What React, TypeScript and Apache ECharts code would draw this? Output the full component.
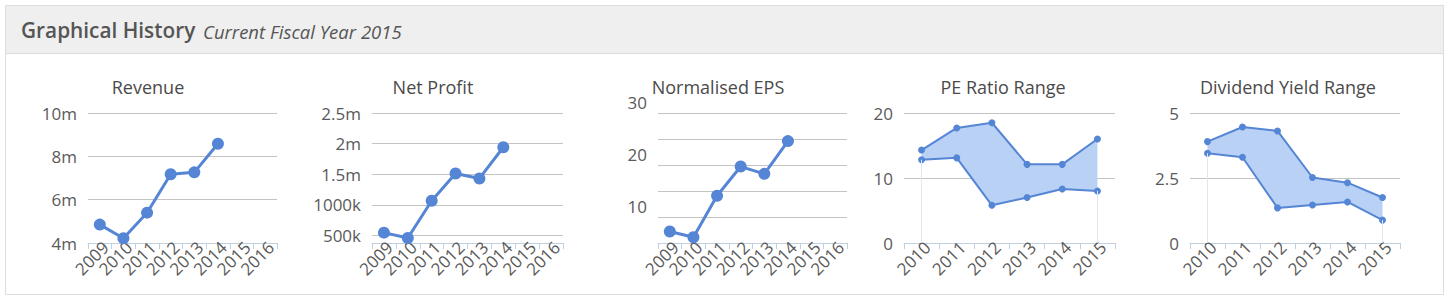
import React, { useEffect, useRef } from 'react';
import * as echarts from 'echarts';

const headerTitle = 'Graphical History';
const headerSub = 'Current Fiscal Year 2015';
const chartTitles = ['Revenue', 'Net Profit', 'Normalised EPS', 'PE Ratio Range', 'Dividend Yield Range'];

const historyYears = ['2009', '2010', '2011', '2012', '2013', '2014', '2015', '2016'];
const revenue = [4850000, 4220000, 5400000, 7170000, 7260000, 8580000, null, null];
const netProfit = [544000, 456000, 1065000, 1510000, 1430000, 1940000, null, null];
const eps = [7.2, 6.1, 14.1, 19.7, 18.3, 24.6, null, null];

const rangeYears = ['2010', '2011', '2012', '2013', '2014', '2015'];
const peHigh = [14.3, 17.7, 18.5, 12.1, 12.1, 16.0];
const peLow = [12.8, 13.1, 5.8, 7.0, 8.3, 8.0];
const dyHigh = [3.9, 4.46, 4.31, 2.52, 2.32, 1.75];
const dyLow = [3.45, 3.3, 1.35, 1.46, 1.58, 0.88];

const netProfitTicks = [500000, 1000000, 1500000, 2000000, 2500000];

const FONT = '"Open Sans", sans-serif';
const BLUE = '#5585d5';
const FILL = '#b9d1f4';
const AXIS = '#c0d0e0';
const GRIDC = '#c4c4c4';
const LABEL = '#5a5a5a';

export default function App() {
  const ref = useRef<HTMLDivElement>(null);
  useEffect(() => {
    if (!ref.current) return;
    const chart = echarts.init(ref.current, null, { renderer: 'svg' });

    const grids = [
      { left: 88, top: 113, width: 189, height: 130 },
      { left: 372, top: 113, width: 191, height: 130 },
      { left: 658, top: 113, width: 189, height: 130 },
      { left: 904, top: 113, width: 211, height: 130 },
      { left: 1190, top: 113, width: 210, height: 130 },
    ];
    const centers = [148, 433, 718, 1003, 1288];

    const xAxis = grids.map((g, i) => ({
      type: 'category',
      gridIndex: i,
      data: i < 3 ? historyYears : rangeYears,
      boundaryGap: true,
      axisLine: { lineStyle: { color: AXIS, width: 1 } },
      axisTick: { show: true, length: 6, lineStyle: { color: AXIS } },
      axisLabel: {
        rotate: 45,
        fontSize: 17,
        color: LABEL,
        margin: 7,
        interval: 0,
        fontFamily: FONT,
        padding: [0, -8, 0, 0],
      },
      splitLine: { show: false },
    }));

    const baseY = (i: number, extra: any) => ({
      type: 'value',
      gridIndex: i,
      axisLine: { show: false },
      axisTick: { show: false },
      splitLine: { show: true, lineStyle: { color: GRIDC, width: 1 } },
      ...extra,
      axisLabel: { fontSize: 17, color: LABEL, margin: 11, fontFamily: FONT, ...(extra.axisLabel || {}) },
    });

    const yAxis = [
      baseY(0, { min: 4000000, max: 10000000, interval: 2000000, axisLabel: { formatter: (v: number) => v / 1000000 + 'm' } }),
      baseY(1, {
        min: 375000,
        max: 2500000,
        axisTick: { show: false, customValues: netProfitTicks },
        axisLabel: {
          customValues: netProfitTicks,
          formatter: (v: number) => (v < 1500000 ? v / 1000 + 'k' : v / 1000000 + 'm'),
        },
      }),
      baseY(2, {
        min: 5,
        max: 30,
        interval: 5,
        axisLabel: {
          formatter: (v: number) => (v % 10 === 0 ? String(v) : ''),
          verticalAlign: 'bottom',
          lineHeight: 22,
        },
      }),
      baseY(3, { min: 0, max: 20, interval: 10 }),
      baseY(4, { min: 0, max: 5, interval: 2.5 }),
    ];

    const lineSeries = (i: number, data: any[]) => ({
      type: 'line',
      xAxisIndex: i,
      yAxisIndex: i,
      data,
      symbol: 'circle',
      symbolSize: 12,
      showSymbol: true,
      lineStyle: { color: BLUE, width: 3 },
      itemStyle: { color: BLUE },
      z: 3,
    });

    const rangeSeries = (i: number, low: number[], high: number[], name: string) => [
      {
        type: 'line',
        name: name + ' low',
        xAxisIndex: i,
        yAxisIndex: i,
        stack: name,
        data: low,
        symbol: 'circle',
        symbolSize: 7,
        lineStyle: { color: BLUE, width: 2 },
        itemStyle: { color: BLUE },
        z: 4,
        markLine: {
          silent: true,
          symbol: ['none', 'none'],
          label: { show: false },
          lineStyle: { color: '#dfe7f4', width: 1, type: 'solid' },
          data: [
            [{ coord: [rangeYears[0], 0] }, { coord: [rangeYears[0], low[0]] }],
            [{ coord: [rangeYears[rangeYears.length - 1], 0] }, { coord: [rangeYears[rangeYears.length - 1], low[low.length - 1]] }],
          ],
        },
      },
      {
        type: 'line',
        name: name + ' high',
        xAxisIndex: i,
        yAxisIndex: i,
        stack: name,
        data: high.map((h, k) => +(h - low[k]).toFixed(4)),
        symbol: 'circle',
        symbolSize: 7,
        lineStyle: { color: BLUE, width: 2 },
        itemStyle: { color: BLUE },
        areaStyle: { color: FILL, opacity: 1 },
        z: 3,
      },
    ];

    const graphic: any[] = [
      { type: 'rect', silent: true, z: -10, shape: { x: 5.5, y: 5.5, width: 1438, height: 48 }, style: { fill: '#efefef', stroke: 'none' } },
      { type: 'rect', silent: true, z: -9, shape: { x: 5.5, y: 5.5, width: 1438, height: 289 }, style: { fill: 'none', stroke: '#dddddd', lineWidth: 1 } },
      { type: 'line', silent: true, z: -9, shape: { x1: 5.5, y1: 53.5, x2: 1443.5, y2: 53.5 }, style: { stroke: '#dddddd', lineWidth: 1 } },
      { type: 'text', silent: true, x: 21, y: 30, style: { text: headerTitle, font: `600 20.8px ${FONT}`, fill: '#555555', verticalAlign: 'middle', align: 'left' } },
      { type: 'text', silent: true, x: 203, y: 31, style: { text: headerSub, font: `italic 18.5px ${FONT}`, fill: '#555555', verticalAlign: 'middle', align: 'left' } },
      ...chartTitles.map((t, i) => ({
        type: 'text',
        silent: true,
        x: centers[i],
        y: 87,
        style: { text: t, font: `18px ${FONT}`, fill: '#4a4a4a', align: 'center', verticalAlign: 'middle' },
      })),
    ];

    chart.setOption({
      animation: false,
      textStyle: { fontFamily: FONT },
      grid: grids.map((g) => ({ ...g, containLabel: false })),
      xAxis,
      yAxis,
      graphic,
      series: [
        lineSeries(0, revenue),
        lineSeries(1, netProfit),
        lineSeries(2, eps),
        ...rangeSeries(3, peLow, peHigh, 'pe'),
        ...rangeSeries(4, dyLow, dyHigh, 'dy'),
      ],
    });
    return () => chart.dispose();
  }, []);
  return <div ref={ref} style={{ position: 'absolute', left: 0, top: 0, width: 1447, height: 302, background: '#fff' }} />;
}
